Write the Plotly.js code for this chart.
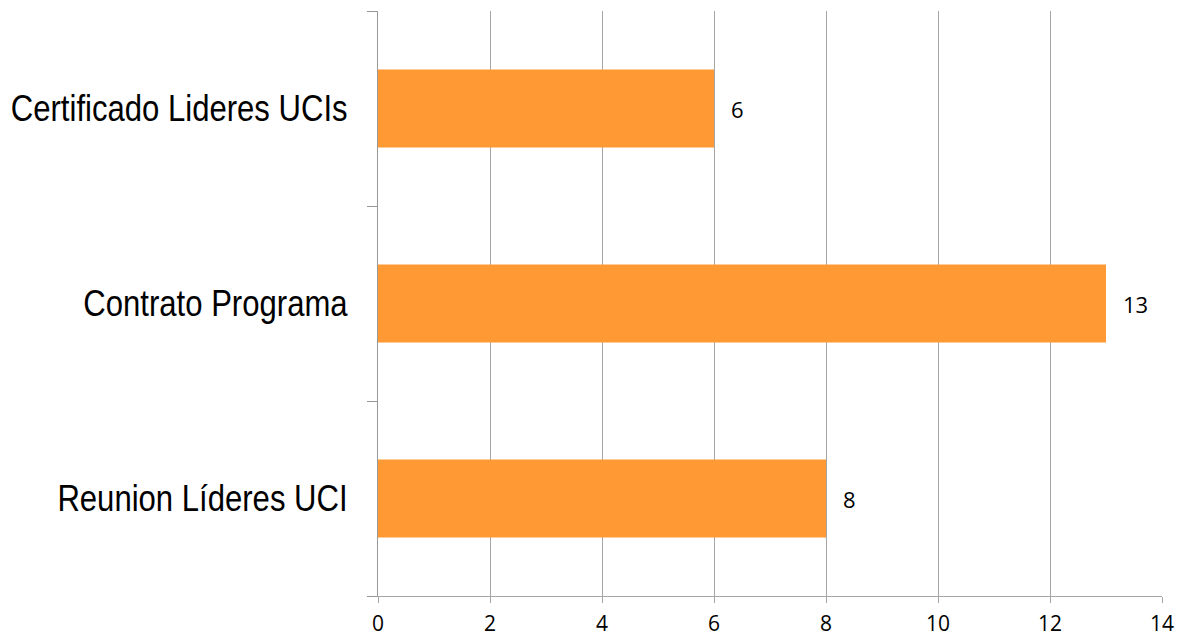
<!DOCTYPE html>
<html>
<head>
<meta charset="utf-8">
<script src="https://cdn.plot.ly/plotly-3.0.1.min.js"></script>
<style>html,body{margin:0;padding:0;background:#fff}#chart{width:1178px;height:640px}</style>
</head>
<body>
<div id="chart"></div>
<script>
const categories = ["Reunion Líderes UCI", "Contrato Programa", "Certificado Lideres UCIs"];
const values = [8, 13, 6];
const xTicks = [0, 2, 4, 6, 8, 10, 12, 14];

const trace = {
  type: "bar",
  orientation: "h",
  x: values,
  y: categories,
  marker: {color: "#FF9933"},
  hoverinfo: "none"
};

const annotations = values.map((v, i) => ({
  x: v, y: categories[i], xref: "x", yref: "y",
  text: String(v), showarrow: false,
  xanchor: "left", xshift: 15,
  font: {family: "Open Sans, sans-serif", size: 22, color: "#000"}
}));

const layout = {
  width: 1178, height: 640,
  margin: {l: 378, r: 16, t: 11, b: 44},
  paper_bgcolor: "#fff", plot_bgcolor: "#fff",
  showlegend: false,
  bargap: 0.6,
  xaxis: {
    range: [0, 14],
    tickvals: xTicks,
    ticktext: xTicks.map(String),
    showgrid: true, gridcolor: "#A6A6A6", gridwidth: 1,
    zeroline: false,
    showline: true, linecolor: "#A6A6A6", linewidth: 1,
    ticks: "outside", ticklen: 6, tickcolor: "#A6A6A6", tickwidth: 1,
    ticklabelstandoff: 3,
    tickfont: {family: "Open Sans, sans-serif", size: 21, color: "#000"},
    fixedrange: true
  },
  yaxis: {
    type: "category",
    categoryorder: "array", categoryarray: categories,
    range: [-0.5, 2.5],
    showgrid: false, zeroline: false,
    showline: true, linecolor: "#999", linewidth: 1,
    ticks: "outside", tickson: "boundaries", ticklen: 10, tickcolor: "#999", tickwidth: 1,
    ticklabelstandoff: 22,
    tickfont: {family: "Liberation Sans, Arial, sans-serif", size: 37, color: "#000"},
    fixedrange: true
  },
  annotations: annotations
};

Plotly.newPlot("chart", [trace], layout, {displayModeBar: false, staticPlot: true}).then(() => {
  // condense the category labels to mimic a narrow typeface
  document.querySelectorAll("#chart .ytick text").forEach(t => {
    const w = t.getComputedTextLength();
    t.setAttribute("textLength", (w * 0.84).toFixed(1));
    t.setAttribute("lengthAdjust", "spacingAndGlyphs");
  });
});
</script>
</body>
</html>
